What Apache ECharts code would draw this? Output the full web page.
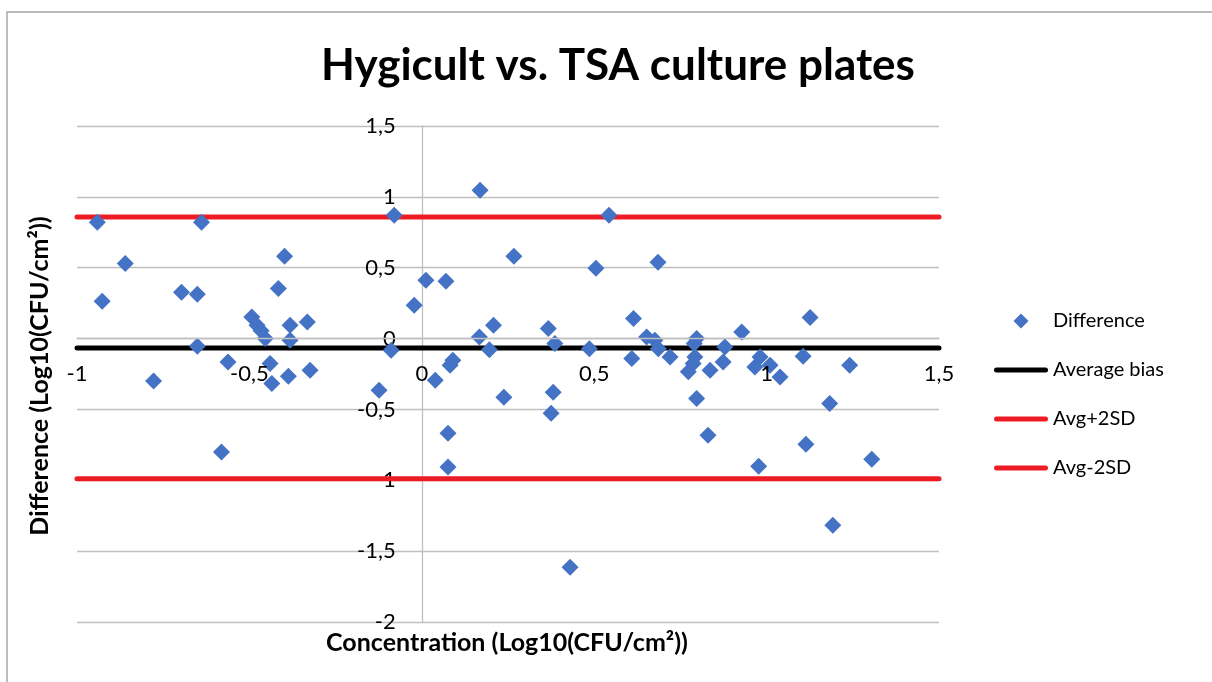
<!DOCTYPE html>
<html>
<head>
<meta charset="utf-8">
<title>Hygicult vs. TSA culture plates</title>
<script src="https://cdn.jsdelivr.net/npm/echarts@6/dist/echarts.min.js"></script>
<style>
  html, body { margin: 0; padding: 0; background: #fff; }
  #chart { width: 1212px; height: 682px; }
</style>
</head>
<body>
<div id="chart"></div>
<script>
// concentration (x) and difference (y) for each plate pair
const concentration = [
  -0.941, -0.927, -0.860, -0.778, -0.697, -0.651, -0.639, -0.651, -0.581, -0.562,
  -0.493, -0.478, -0.466, -0.454, -0.440, -0.435, -0.416, -0.398, -0.382, -0.382,
  -0.387, -0.332, -0.324, -0.124, -0.089, -0.080, -0.022, 0.012, 0.039, 0.070,
  0.076, 0.076, 0.082, 0.090, 0.167, 0.169, 0.196, 0.208, 0.238, 0.267,
  0.367, 0.375, 0.381, 0.386, 0.430, 0.486, 0.505, 0.543, 0.609, 0.614,
  0.652, 0.676, 0.686, 0.685, 0.720, 0.773, 0.787, 0.792, 0.790, 0.797,
  0.797, 0.830, 0.836, 0.874, 0.879, 0.928, 0.966, 0.977, 0.981, 1.010,
  1.039, 1.106, 1.114, 1.126, 1.183, 1.192, 1.241, 1.305
]
const difference = [
  0.820, 0.263, 0.530, -0.300, 0.327, 0.313, 0.820, -0.054, -0.800, -0.165,
  0.152, 0.094, 0.055, 0.000, -0.176, -0.317, 0.353, 0.581, 0.094, -0.012,
  -0.266, 0.117, -0.224, -0.365, -0.083, 0.870, 0.235, 0.411, -0.294, 0.404,
  -0.668, -0.906, -0.188, -0.153, 0.011, 1.046, -0.078, 0.094, -0.414, 0.581,
  0.071, -0.527, -0.379, -0.035, -1.613, -0.071, 0.496, 0.870, -0.141, 0.141,
  0.011, -0.012, -0.071, 0.538, -0.130, -0.235, -0.176, -0.130, -0.035, 0.000,
  -0.423, -0.682, -0.224, -0.165, -0.059, 0.047, -0.200, -0.901, -0.130, -0.188,
  -0.271, -0.125, -0.746, 0.148, -0.459, -1.317, -0.188, -0.852
]

// limits of agreement
const averageBias = -0.066
const upperLimit = 0.858
const lowerLimit = -0.99

// axis ranges
const xRange = [-1, 1.5]
const yRange = [-2, 1.5]
const tickStep = 0.5

const seriesNames = ['Difference', 'Average bias', 'Avg+2SD', 'Avg-2SD']

const font = 'Lato, "Open Sans", sans-serif'
const commaLabel = (v) => String(v).replace('.', ',')

const points = concentration.map((x, i) => [x, difference[i]])
const hLine = (y) => [[xRange[0], y], [xRange[1], y]]

// plot area
const W = 1212, H = 682
const grid = { left: 77, right: 273, top: 126, bottom: 60 }
const plotW = W - grid.left - grid.right
const plotH = H - grid.top - grid.bottom
// axes cross at zero, like Excel
const yAxisShift = plotW * (0 - xRange[0]) / (xRange[1] - xRange[0])
const xAxisShift = plotH * (0 - yRange[0]) / (yRange[1] - yRange[0])

const lineIcon = 'path://M2.5,0H51.5A2.5,2.5,0,0,1,51.5,5H2.5A2.5,2.5,0,0,1,2.5,0Z'
const diamondIcon = 'path://M0,7L7,0L14,7L7,14Z'

const chart = echarts.init(document.getElementById('chart'))

const option = {
  animation: false,
  title: {
    text: 'Hygicult vs. TSA culture plates',
    left: 613,
    textAlign: 'center',
    top: 39,
    textStyle: {
      fontFamily: font,
      fontSize: 44,
      fontWeight: 'bold',
      color: '#000'
    }
  },
  graphic: [
    {
      type: 'rect',
      silent: true,
      shape: { x: 7, y: 12, width: 1300, height: 800 },
      style: { fill: 'none', stroke: '#a6a6a6', lineWidth: 1.5 }
    },
    {
      type: 'text',
      x: 40,
      y: 376,
      rotation: Math.PI / 2,
      style: {
        text: 'Difference (Log10(CFU/cm²))',
        fontFamily: font,
        fontSize: 25,
        fontWeight: 'bold',
        fill: '#000',
        align: 'center',
        verticalAlign: 'middle'
      }
    },
    {
      type: 'text',
      x: 507,
      y: 643,
      style: {
        text: 'Concentration (Log10(CFU/cm²))',
        fontFamily: font,
        fontSize: 25,
        fontWeight: 'bold',
        fill: '#000',
        align: 'center',
        verticalAlign: 'middle'
      }
    }
  ],
  legend: {
    orient: 'vertical',
    left: 989,
    top: 306,
    itemWidth: 54,
    itemHeight: 15,
    itemGap: 29,
    data: [
      { name: seriesNames[0], icon: diamondIcon },
      { name: seriesNames[1], icon: lineIcon },
      { name: seriesNames[2], icon: lineIcon },
      { name: seriesNames[3], icon: lineIcon }
    ],
    textStyle: {
      fontFamily: font,
      fontSize: 20,
      lineHeight: 20,
      color: '#000'
    }
  },
  grid: grid,
  xAxis: {
    type: 'value',
    min: xRange[0],
    max: xRange[1],
    interval: tickStep,
    position: 'bottom',
    offset: -xAxisShift,
    z: 10,
    axisLine: { show: true, onZero: false, lineStyle: { color: '#bfbfbf', width: 1.3 } },
    axisTick: { show: false },
    splitLine: { show: false },
    axisLabel: {
      showMinLabel: true,
      showMaxLabel: true,
      margin: 24,
      fontFamily: font,
      fontSize: 22,
      color: '#000',
      formatter: commaLabel
    }
  },
  yAxis: {
    type: 'value',
    min: yRange[0],
    max: yRange[1],
    interval: tickStep,
    position: 'left',
    offset: -yAxisShift,
    axisLine: { show: true, onZero: false, lineStyle: { color: '#bfbfbf', width: 1.3 } },
    axisTick: { show: false },
    splitLine: { show: true, lineStyle: { color: '#bfbfbf', width: 1.3 } },
    axisLabel: {
      showMinLabel: true,
      showMaxLabel: true,
      margin: 26,
      fontFamily: font,
      fontSize: 22,
      color: '#000',
      formatter: commaLabel
    }
  },
  series: [
    {
      name: seriesNames[0],
      type: 'scatter',
      symbol: 'diamond',
      symbolSize: 17,
      z: 5,
      itemStyle: { color: '#4472C4', opacity: 1 },
      data: points
    },
    {
      name: seriesNames[1],
      type: 'line',
      symbol: 'none',
      z: 3,
      lineStyle: { color: '#000', width: 5, cap: 'round' },
      itemStyle: { color: '#000' },
      data: hLine(averageBias)
    },
    {
      name: seriesNames[2],
      type: 'line',
      symbol: 'none',
      z: 3,
      lineStyle: { color: '#ED1C24', width: 5, cap: 'round' },
      itemStyle: { color: '#ED1C24' },
      data: hLine(upperLimit)
    },
    {
      name: seriesNames[3],
      type: 'line',
      symbol: 'none',
      z: 3,
      lineStyle: { color: '#ED1C24', width: 5, cap: 'round' },
      itemStyle: { color: '#ED1C24' },
      data: hLine(lowerLimit)
    }
  ]
}

chart.setOption(option)
window.addEventListener('resize', () => chart.resize())
</script>
</body>
</html>
